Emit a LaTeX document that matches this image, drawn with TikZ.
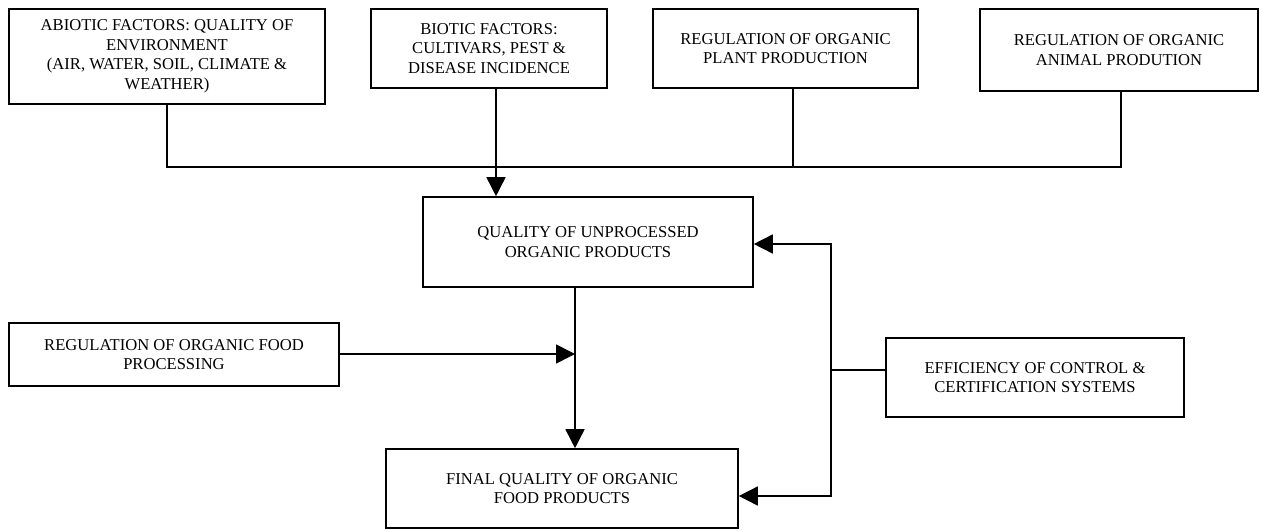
\documentclass[tikz,border=0pt]{standalone}
\usepackage{fontspec}
\setmainfont{Liberation Serif}
\usepackage{tikz}
\usetikzlibrary{arrows.meta, positioning}

\begin{document}
\begin{tikzpicture}[
    x=1pt, y=-1pt,
    box/.style={rectangle, draw=black, line width=1.6pt, align=center, inner sep=2pt,
        font=\fontsize{16.6}{19.5}\selectfont},
    line/.style={line width=1.6pt},
    arrow/.style={line width=1.6pt, -{Triangle[length=19pt, width=19pt]}}
]
\useasboundingbox (0,0) rectangle (1263,530);

\node[box, minimum width=316pt, minimum height=95pt] (abiotic) at (167,56.5)
    {ABIOTIC FACTORS: QUALITY OF\\ENVIRONMENT\\(AIR, WATER, SOIL, CLIMATE \&\\WEATHER)};
\node[box, minimum width=236pt, minimum height=79pt] (biotic) at (489,48.5)
    {BIOTIC FACTORS:\\CULTIVARS, PEST \&\\DISEASE INCIDENCE};
\node[box, minimum width=265pt, minimum height=79pt] (plant) at (785.5,48.5)
    {REGULATION OF ORGANIC\\PLANT PRODUCTION};
\node[box, minimum width=278pt, minimum height=82pt] (animal) at (1119,50)
    {REGULATION OF ORGANIC\\ANIMAL PRODUTION};

\node[box, minimum width=330pt, minimum height=90pt] (quality) at (588,242)
    {QUALITY OF UNPROCESSED\\ORGANIC PRODUCTS};
\node[box, minimum width=330pt, minimum height=63pt] (processing) at (174,354.5)
    {REGULATION OF ORGANIC FOOD\\PROCESSING};
\node[box, minimum width=298pt, minimum height=79pt] (efficiency) at (1035,377.5)
    {EFFICIENCY OF CONTROL \&\\CERTIFICATION SYSTEMS};
\node[box, minimum width=352pt, minimum height=79pt] (final) at (562,488.5)
    {FINAL QUALITY OF ORGANIC\\FOOD PRODUCTS};

\coordinate (bus) at (0,167);
\coordinate (join) at ([xshift=-13pt, yshift=0.5pt]quality.south |- processing.east);
\coordinate (bracket) at (831,370);

\draw[line] (abiotic.south) |- ([xshift=2pt]animal.south |- bus) -- ([xshift=2pt]animal.south);
\draw[line] ([xshift=7.5pt]plant.south) -- ([xshift=7.5pt]plant.south |- bus);
\draw[arrow] ([xshift=7pt]biotic.south) -- ([xshift=7pt]biotic.south |- quality.north);

\draw[arrow] ([xshift=-13pt]quality.south) -- ([xshift=-13pt]quality.south |- final.north);
\draw[arrow] ([yshift=0.5pt]processing.east) -- (join);

\draw[line] ([yshift=7.5pt]efficiency.west) -- (bracket);
\draw[arrow] (bracket) |- ([yshift=-2pt]quality.east);
\draw[arrow] (bracket) |- ([yshift=-7.5pt]final.east);

\end{tikzpicture}
\end{document}
